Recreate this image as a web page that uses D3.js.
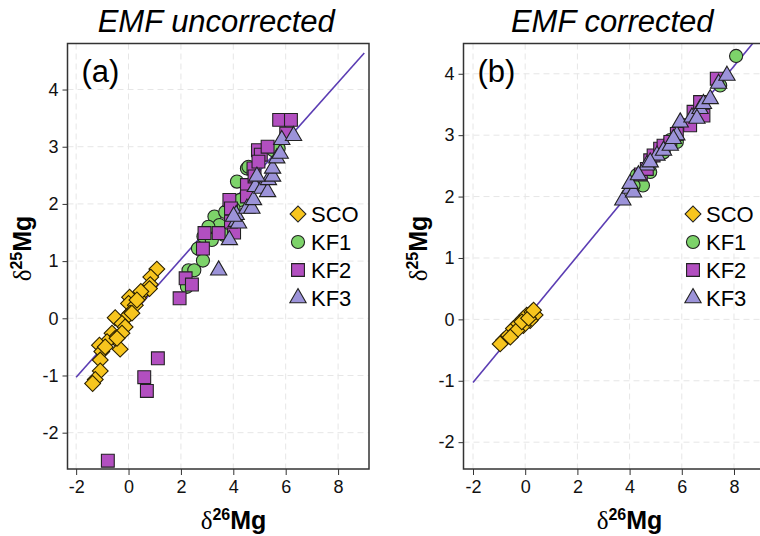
<!DOCTYPE html>
<html>
<head>
<meta charset="utf-8">
<script src="https://cdn.jsdelivr.net/npm/d3@7"></script>
<style>
  body { margin: 0; background: #fff; }
  svg { display: block; font-family: "Liberation Sans", Arial, sans-serif; }
  .grid line { stroke: #e6e6e6; stroke-width: 1; stroke-dasharray: 6,4; }
  .axis path, .axis line { stroke: #333; }
  .axis text { font-size: 18px; fill: #111; }
</style>
</head>
<body>
<div id="chart"></div>
<script>
// delta-Mg three-isotope plots, before and after EMF correction
const groups = ["SCO", "KF1", "KF2", "KF3"];
const groupColors = ["#F7C51E", "#7DD36A", "#B24FC0", "#9C93D9"];
const xTicks = [-2, 0, 2, 4, 6, 8];
const yTicksA = [-2, -1, 0, 1, 2, 3, 4];
const yTicksB = [-2, -1, 0, 1, 2, 3, 4];
const fitLine = [[-2, -1.03], [9, 4.64]];

// panel (a) uncorrected, [d26, d25]
const scoA = [[1.08,0.86],[0.85,0.72],[0.83,0.59],[0.51,0.44],[0.38,0.35],[0.04,0.37],[0.0,0.26],
  [0.26,0.23],[0.06,0.09],[-0.06,0.03],[-0.51,0.01],[-0.25,-0.09],[-0.13,-0.15],[-0.63,-0.26],
  [-0.51,-0.35],[-0.82,-0.41],[-1.11,-0.47],[-1.02,-0.58],[-0.32,-0.54],[-1.08,-0.73],[-1.08,-0.92],
  [-1.27,-1.07],[-1.37,-1.14],[-0.25,-0.26],[0.80,0.52],[0.47,0.47],[0.32,0.32],[0.13,0.09],
  [-0.89,-0.50],[-0.44,-0.35]];
const kf1A = [[2.23,0.55],[2.29,0.84],[2.51,0.84],[2.84,1.01],[2.65,1.22],[2.86,1.43],[3.05,1.51],
  [3.18,1.37],[3.28,1.78],[3.47,1.63],[3.63,1.46],[3.69,1.86],[4.14,2.39],[4.26,2.07],[4.52,2.62],
  [4.58,2.65],[5.53,2.94],[5.73,2.97],[3.05,1.60],[4.01,1.92]];
const kf2A = [[1.12,-0.70],[0.60,-1.03],[0.70,-1.27],[-0.79,-2.49],[1.95,0.35],[2.18,0.70],[2.42,0.59],
  [2.84,1.22],[2.90,1.49],[3.44,1.49],[4.03,1.50],[3.85,2.07],[3.91,1.92],[3.91,1.69],[4.52,2.33],
  [4.52,2.13],[4.77,2.62],[4.81,2.48],[4.94,2.94],[5.05,2.86],[5.31,3.00],[4.96,2.74],[5.75,3.47],
  [6.20,3.47],[6.02,3.23]];
const kf3A = [[3.44,0.84],[3.85,1.37],[4.11,1.69],[4.20,1.66],[4.11,1.81],[4.52,1.92],[4.71,1.92],
  [4.77,2.07],[4.84,2.30],[5.09,2.27],[5.31,2.21],[5.34,2.42],[5.50,2.48],[5.50,2.62],[4.90,2.48],
  [5.66,2.80],[5.79,2.88],[5.85,3.12],[6.30,3.19],[4.01,1.78]];

// panel (b) corrected
const scoB = [[-0.83,-0.34],[-0.64,-0.26],[-0.45,-0.15],[-0.26,-0.07],[-0.07,0.01],[0.06,0.07],
  [0.26,0.12],[0.38,0.07],[0.19,-0.02],[-0.07,-0.10],[-0.32,-0.18],[-0.57,-0.29],[-0.13,-0.04],
  [0.13,0.02],[0.32,0.15],[-0.96,-0.40]];
const kf1B = [[4.28,2.35],[4.51,2.18],[4.79,2.40],[5.56,2.92],[5.81,2.89],[7.47,3.81],[8.08,4.29],
  [4.15,2.18],[5.30,2.72]];
const kf2B = [[4.43,2.36],[4.79,2.59],[4.92,2.67],[5.17,2.78],[5.30,2.83],[5.81,3.02],[6.32,3.16],
  [6.45,3.38],[6.70,3.54],[6.83,3.32],[7.34,3.92],[4.66,2.45],[5.56,2.89]];
const kf3B = [[3.74,1.94],[4.02,2.13],[4.15,2.07],[4.66,2.51],[5.05,2.67],[5.30,2.75],[5.56,2.83],
  [5.81,3.00],[5.94,3.21],[6.39,3.29],[6.70,3.43],[6.83,3.51],[7.09,3.59],[7.41,3.84],[7.73,3.97],
  [4.02,2.21],[4.34,2.35],[4.79,2.56],[5.68,2.94],[6.58,3.27]];

const width = 760, height = 536;
const svg = d3.select("#chart").append("svg")
  .attr("width", width).attr("height", height);

const symbols = [
  d3.symbol().type(d3.symbolSquare).size(125),   // diamond (rotated)
  d3.symbol().type(d3.symbolCircle).size(135),
  d3.symbol().type(d3.symbolSquare).size(165),
  d3.symbol().type(d3.symbolTriangle).size(115)
];
const rot = [45, 0, 0, 0];

function panel(opts) {
  const { left, top, w, h, xDomain, yDomain, yTicks, series, title, tag, id } = opts;
  const x = d3.scaleLinear().domain(xDomain).range([left, left + w]);
  const y = d3.scaleLinear().domain(yDomain).range([top + h, top]);

  svg.append("clipPath").attr("id", id)
    .append("rect").attr("x", left).attr("y", top).attr("width", w).attr("height", h);

  const grid = svg.append("g").attr("class", "grid");
  grid.selectAll(".gx").data(xTicks).enter().append("line")
    .attr("x1", d => x(d)).attr("x2", d => x(d)).attr("y1", top).attr("y2", top + h);
  grid.selectAll(".gy").data(yTicks).enter().append("line")
    .attr("y1", d => y(d)).attr("y2", d => y(d)).attr("x1", left).attr("x2", left + w);

  const plot = svg.append("g").attr("clip-path", `url(#${id})`);
  plot.append("line")
    .attr("x1", x(fitLine[0][0])).attr("y1", y(fitLine[0][1]))
    .attr("x2", x(fitLine[1][0])).attr("y2", y(fitLine[1][1]))
    .attr("stroke", "#5B3DB3").attr("stroke-width", 1.6);

  series.forEach((pts, i) => {
    plot.selectAll(".p" + i).data(pts).enter().append("path")
      .attr("d", symbols[i])
      .attr("transform", d => `translate(${x(d[0])},${y(d[1])}) rotate(${rot[i]})`)
      .attr("fill", groupColors[i])
      .attr("stroke", i === 0 ? "#2a2000" : "#222")
      .attr("stroke-width", 1.1);
  });

  svg.append("rect").attr("x", left).attr("y", top).attr("width", w).attr("height", h)
    .attr("fill", "none").attr("stroke", "#333").attr("stroke-width", 1.5);

  svg.append("g").attr("class", "axis")
    .attr("transform", `translate(0,${top + h})`)
    .call(d3.axisBottom(x).tickValues(xTicks).tickSize(6).tickPadding(5).tickFormat(d => String(d)))
    .call(g => g.select(".domain").remove());
  svg.append("g").attr("class", "axis")
    .attr("transform", `translate(${left},0)`)
    .call(d3.axisLeft(y).tickValues(yTicks).tickSize(5).tickPadding(4).tickFormat(d => String(d)))
    .call(g => g.select(".domain").remove());

  svg.append("text").attr("x", left + w / 2 - 2).attr("y", 32)
    .attr("text-anchor", "middle").attr("font-size", 31).attr("font-style", "italic")
    .text(title);
  svg.append("text").attr("x", left + 14).attr("y", 82)
    .attr("font-size", 31).text(tag);

  // axis titles
  const xt = svg.append("text").attr("x", left + 166).attr("y", 529)
    .attr("text-anchor", "middle").attr("font-size", 25);
  xt.append("tspan").attr("font-family", "Liberation Serif, serif").text("δ");
  xt.append("tspan").attr("font-weight", "bold").attr("font-size", 16).attr("dy", -9).text("26");
  xt.append("tspan").attr("font-weight", "bold").attr("dy", 9).text("Mg");

  const yt = svg.append("text")
    .attr("transform", `translate(${left - 37},${top + 205}) rotate(-90)`)
    .attr("text-anchor", "middle").attr("font-size", 25);
  yt.append("tspan").attr("font-family", "Liberation Serif, serif").text("δ");
  yt.append("tspan").attr("font-weight", "bold").attr("font-size", 16).attr("dy", -9).text("25");
  yt.append("tspan").attr("font-weight", "bold").attr("dy", 9).text("Mg");

  // legend
  const lg = svg.append("g").attr("transform", `translate(${opts.legX},214)`);
  groups.forEach((name, i) => {
    const row = lg.append("g").attr("transform", `translate(0,${i * 28})`);
    row.append("path").attr("d", symbols[i])
      .attr("transform", `rotate(${rot[i]})`)
      .attr("fill", groupColors[i]).attr("stroke", "#222").attr("stroke-width", 1.1);
    row.append("text").attr("x", 13).attr("y", 8).attr("font-size", 22).text(name);
  });
}

panel({ id: "clipA", left: 67.5, top: 43.5, w: 301.5, h: 425.5,
  xDomain: [-2.33, 9.18], yDomain: [-2.635, 4.805], yTicks: yTicksA,
  series: [scoA, kf1A, kf2A, kf3A], title: "EMF uncorrected", tag: "(a)", legX: 298 });

panel({ id: "clipB", left: 463.5, top: 43.5, w: 301.5, h: 425.5,
  xDomain: [-2.364, 9.188], yDomain: [-2.437, 4.493], yTicks: yTicksB,
  series: [scoB, kf1B, kf2B, kf3B], title: "EMF corrected", tag: "(b)", legX: 693 });
</script>
</body>
</html>
